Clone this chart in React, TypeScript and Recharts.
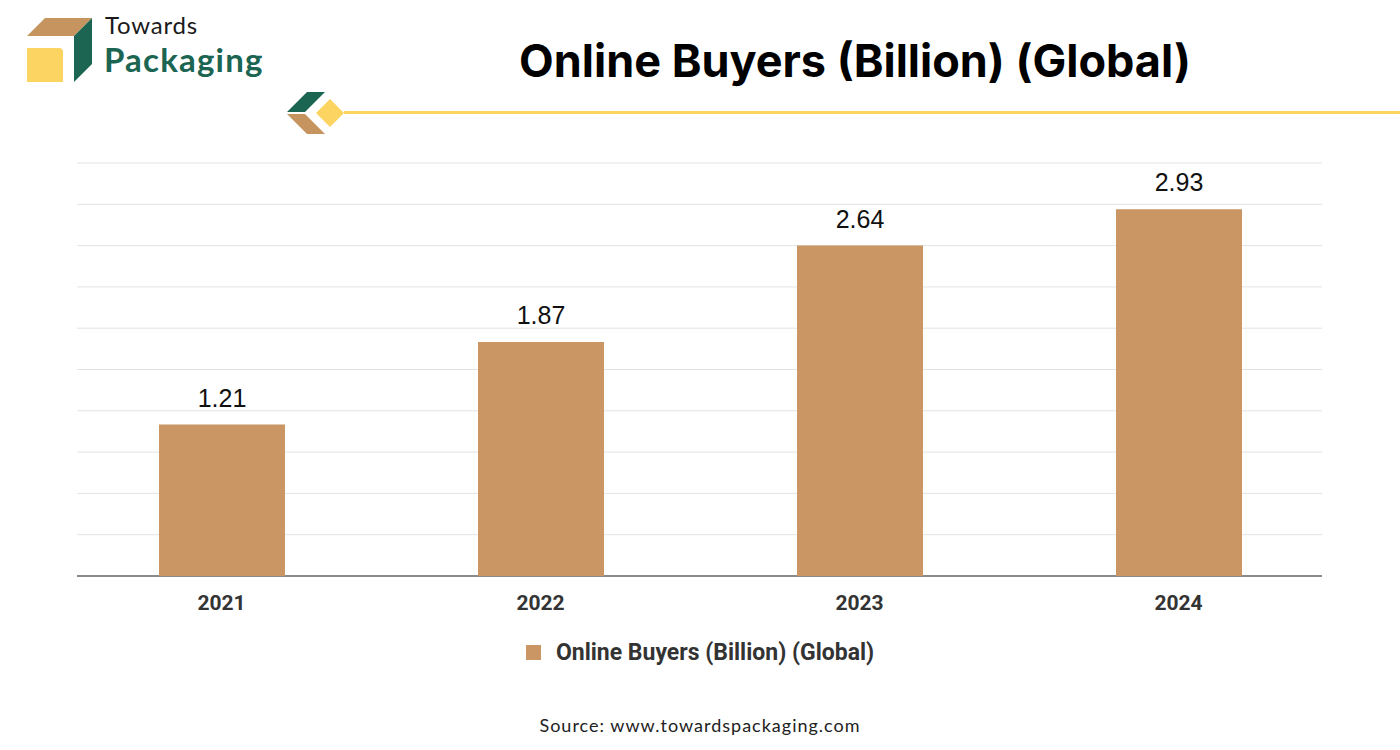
import React from 'react';
import { BarChart, Bar, XAxis, YAxis, CartesianGrid, LabelList } from 'recharts';

const years = ['2021', '2022', '2023', '2024'];
const buyers = [1.21, 1.87, 2.64, 2.93];
const seriesName = 'Online Buyers (Billion) (Global)';

const data = years.map((year, i) => ({ year, value: buyers[i] }));

const yMax = 3.3;
const yTicks = Array.from({ length: 11 }, (_, i) => +(i * yMax / 10).toFixed(3));

const BAR = '#c99664';
const GREEN = '#1b6552';
const YELLOW = '#fcd462';

const Logo = () => (
  <svg width={400} height={140} style={{ position: 'absolute', left: 0, top: 0 }}>
    {/* box icon */}
    <polygon points="27,36 45,18 92,18 74,36" fill="#c6955f" />
    <polygon points="74,36 92,18 92,64 74,82" fill={GREEN} />
    <path d="M27,48 L59,48 Q63,48 63,52 L63,82 L27,82 Z" fill={YELLOW} />
    <text x={105} y={34} fontFamily="Lato, sans-serif" fontSize={24} letterSpacing={0.8} fill="#1a1a1a">Towards</text>
    <text x={104} y={72} fontFamily="Lato, sans-serif" fontWeight={700} fontSize={33} letterSpacing={1.2} fill={GREEN}>Packaging</text>
    {/* divider ornament */}
    <polygon points="287,112 307,92 325,92 305,112" fill={GREEN} />
    <polygon points="287,114 305,114 325,134 307,134" fill="#c6955f" />
    <polygon points="316,113 330,99 344,113 330,127" fill={YELLOW} />
  </svg>
);

// grid lines are drawn a bit inset from the category band edges, like the source
const GridLine = (props: any) => {
  const { x1, x2, y1, y2 } = props;
  const isBase = y1 > 570;
  return (
    <line
      x1={x1 + 15}
      x2={x2 - 16}
      y1={y1}
      y2={y2}
      stroke={isBase ? '#8a8a8a' : '#e3e3e3'}
      strokeWidth={isBase ? 2 : 1}
    />
  );
};

export default function App() {
  return (
    <div style={{ position: 'absolute', left: 0, top: 0, width: 1400, height: 750, background: '#fff', overflow: 'hidden' }}>
      <Logo />
      <div style={{ position: 'absolute', left: 344, top: 111, width: 1056, height: 3, background: YELLOW }} />
      <div
        style={{
          position: 'absolute', left: 355, width: 1000, top: 33, textAlign: 'center',
          fontFamily: 'Inter, sans-serif', fontWeight: 700, fontSize: 45, color: '#000',
        }}
      >
        {seriesName}
      </div>

      <div style={{ position: 'absolute', left: 0, top: 0 }}>
        <BarChart width={1400} height={750} data={data} margin={{ top: 163, right: 62, bottom: 134, left: 62 }}>
          <CartesianGrid vertical={false} horizontal={(p: any) => <GridLine {...p} />} />
          <YAxis hide domain={[0, yMax]} ticks={yTicks} />
          <XAxis
            dataKey="year"
            height={40}
            axisLine={false}
            tickLine={false}
            tick={{ fill: '#333', fontSize: 21, fontWeight: 700, fontFamily: 'Roboto, sans-serif' }}
            dy={11}
          />
          <Bar dataKey="value" name={seriesName} fill={BAR} barSize={126} isAnimationActive={false}>
            <LabelList
              dataKey="value"
              position="top"
              offset={18}
              style={{ fill: '#111', fontSize: 25, fontFamily: '"Liberation Sans", Arial, sans-serif' }}
            />
          </Bar>
        </BarChart>
      </div>

      {/* legend */}
      <div
        style={{
          position: 'absolute', left: 0, width: 1400, top: 639, display: 'flex', justifyContent: 'center',
          alignItems: 'center', fontFamily: 'Roboto, sans-serif', fontWeight: 700, fontSize: 23, color: '#333',
        }}
      >
        <span style={{ display: 'inline-block', width: 15, height: 15, background: BAR, marginRight: 15 }} />
        {seriesName}
      </div>

      <div
        style={{
          position: 'absolute', left: 0, width: 1400, top: 714, textAlign: 'center',
          fontFamily: 'Lato, sans-serif', fontSize: 18, color: '#222', letterSpacing: 1,
        }}
      >
        Source: www.towardspackaging.com
      </div>
    </div>
  );
}
